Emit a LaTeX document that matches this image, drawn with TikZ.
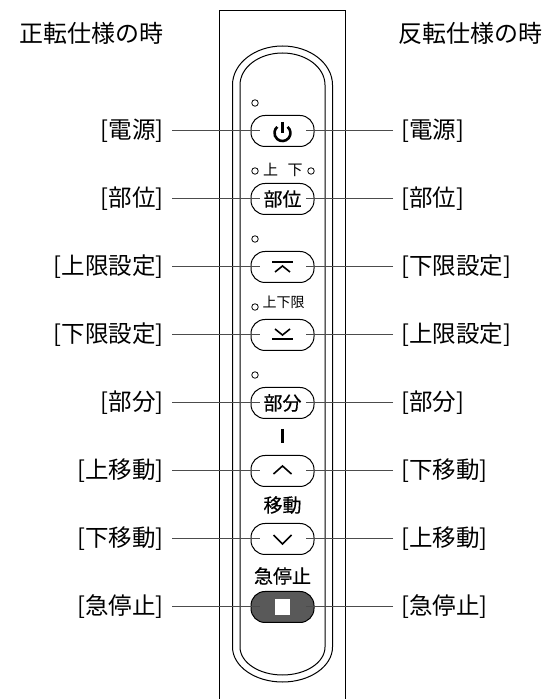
\documentclass[tikz,border=0pt]{standalone}
\usepackage{fontspec}
\setmainfont{Noto Sans CJK JP}
\newfontfamily\medfont[FakeBold=0.4]{Noto Sans CJK JP}
\begin{document}
\begin{tikzpicture}
	[x=1pt,y=1pt,line width=1pt,
	btn/.style={draw,rounded corners=14pt,minimum width=63pt,minimum height=31pt,inner sep=0pt,font=\medfont\fontsize{19}{20}\selectfont},
	led/.style={circle,draw,inner sep=0pt,minimum size=6.5pt,line width=.8pt},
	leftlbl/.style={anchor=east,inner sep=8pt,font=\fontsize{23.5}{25}\selectfont},
	rightlbl/.style={anchor=west,inner sep=8pt,font=\fontsize{23.5}{25}\selectfont},
	head/.style={inner sep=0pt,font=\fontsize{24}{25}\selectfont},
	small/.style={inner sep=0pt,font=\fontsize{14}{15}\selectfont},
	caption/.style={inner sep=0pt,font=\medfont\fontsize{19}{20}\selectfont},
	lead/.style={line width=1pt,black!70},
	icon/.style={line width=1.6pt},
	bar/.style={line width=2.6pt}]
	\useasboundingbox (0,0) rectangle (547,699);
	\node[head,name=headL] at (91.5,666) {正転仕様の時};
	\node[head,name=headR] at (470.5,666) {反転仕様の時};
	% body of the unit
	\draw (219.5,0)--(219.5,688.5)--(345.5,688.5)--(345.5,0);
	\draw (232.5,614) arc[start angle=180,end angle=0,x radius=50,y radius=39]--(332.5,52)
		arc[start angle=0,end angle=-180,x radius=50,y radius=35]--cycle;
	\draw (240,614) arc[start angle=180,end angle=0,x radius=42.5,y radius=32]--(325,52)
		arc[start angle=0,end angle=-180,x radius=42.5,y radius=28]--cycle;
	% buttons
	\node[btn,name=pwr] at (282.5,568) {};
	\node[btn,name=part] at (282.5,500) {部位};
	\node[btn,name=upper] at (282.5,432) {};
	\node[btn,name=lower] at (282.5,364) {};
	\node[btn,name=sect] at (282.5,296) {部分};
	\node[btn,name=up] at (282.5,228) {};
	\node[btn,name=down] at (282.5,160) {};
	\node[btn,name=stop,fill=black!65] at (282.5,92) {};
	% leds and small texts
	\node[led,name=led1] at (255,596) {};
	\node[led,name=led2] at (255,528) {};
	\node[led,name=led3] at (311,528) {};
	\node[led,name=led4] at (255,460) {};
	\node[led,name=led5] at (255,392) {};
	\node[led,name=led6] at (255,324) {};
	\node[small,font=\fontsize{15}{16}\selectfont,name=txtup] at (270.5,529) {上};
	\node[small,font=\fontsize{15}{16}\selectfont,name=txtdn] at (295,529) {下};
	\node[small,name=txtlim] at (283.5,397) {上下限};
	\node[caption,name=txtmove] at (282.5,194) {移動};
	\node[caption,name=txtstop] at (282.5,123) {急停止};
	% icons
	\draw[bar] (287.6,572.1) arc[start angle=50,end angle=-230,radius=8];
	\draw[bar] (282.5,577)--(282.5,566);
	\draw[bar] (272,437)--(293,437);
	\draw[icon] (275,427)--(282.5,433)--(290,427);
	\draw[bar] (272,360)--(293,360);
	\draw[icon] (275,370)--(282.5,364)--(290,370);
	\draw[bar] (282.5,270)--(282.5,256);
	\draw[icon] (273.5,225)--(282.5,233)--(291.5,225);
	\draw[icon] (273.5,164)--(282.5,155)--(291.5,164);
	\fill[white] (275,84) rectangle (290,100);
	% labels on the left
	\node[leftlbl,name=l1] at (172,568) {[電源]};
	\node[leftlbl,name=l2] at (172,500) {[部位]};
	\node[leftlbl,name=l3] at (172,432) {[上限設定]};
	\node[leftlbl,name=l4] at (172,364) {[下限設定]};
	\node[leftlbl,name=l5] at (172,296) {[部分]};
	\node[leftlbl,name=l6] at (172,228) {[上移動]};
	\node[leftlbl,name=l7] at (172,160) {[下移動]};
	\node[leftlbl,name=l8] at (172,92) {[急停止]};
	% labels on the right
	\node[rightlbl,name=r1] at (393,568) {[電源]};
	\node[rightlbl,name=r2] at (393,500) {[部位]};
	\node[rightlbl,name=r3] at (393,432) {[下限設定]};
	\node[rightlbl,name=r4] at (393,364) {[上限設定]};
	\node[rightlbl,name=r5] at (393,296) {[部分]};
	\node[rightlbl,name=r6] at (393,228) {[下移動]};
	\node[rightlbl,name=r7] at (393,160) {[上移動]};
	\node[rightlbl,name=r8] at (393,92) {[急停止]};
	% leader lines
	\draw[lead] (l1.east)--([xshift=9pt]pwr.west);
	\draw[lead] (l2.east)--([xshift=9pt]part.west);
	\draw[lead] (l3.east)--([xshift=9pt]upper.west);
	\draw[lead] (l4.east)--([xshift=9pt]lower.west);
	\draw[lead] (l5.east)--([xshift=9pt]sect.west);
	\draw[lead] (l6.east)--([xshift=9pt]up.west);
	\draw[lead] (l7.east)--([xshift=9pt]down.west);
	\draw[lead] (l8.east)--([xshift=9pt]stop.west);
	\draw[lead] (r1.west)--([xshift=-9pt]pwr.east);
	\draw[lead] (r2.west)--([xshift=-9pt]part.east);
	\draw[lead] (r3.west)--([xshift=-9pt]upper.east);
	\draw[lead] (r4.west)--([xshift=-9pt]lower.east);
	\draw[lead] (r5.west)--([xshift=-9pt]sect.east);
	\draw[lead] (r6.west)--([xshift=-9pt]up.east);
	\draw[lead] (r7.west)--([xshift=-9pt]down.east);
	\draw[lead] (r8.west)--([xshift=-9pt]stop.east);
\end{tikzpicture}
\end{document}
